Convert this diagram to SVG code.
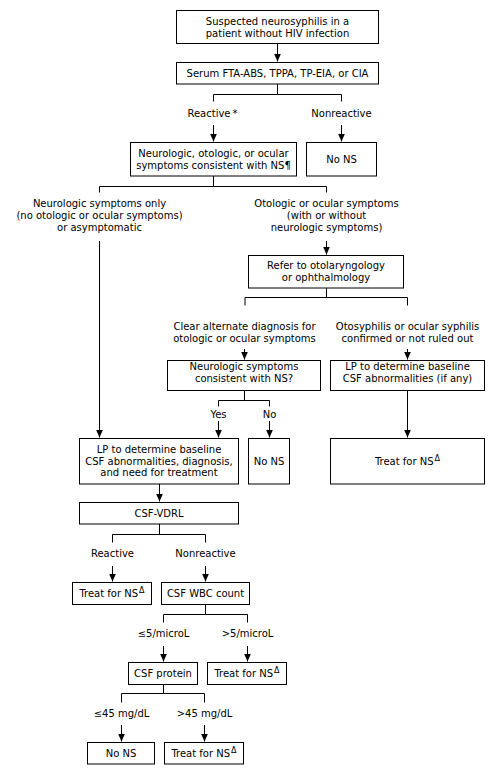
<svg xmlns="http://www.w3.org/2000/svg" width="495" height="775" viewBox="0 0 495 775">
<style>
.b{fill:#fff;stroke:#000;stroke-width:1}
.t{font-family:"DejaVu Sans",Verdana,sans-serif;font-size:10px;fill:#000;text-anchor:middle}
.c{fill:none;stroke:#000;stroke-width:1}
.a{fill:none;stroke:#000;stroke-width:1;marker-end:url(#ah)}
.s{font-size:8px}
</style>
<defs>
<marker id="ah" markerUnits="userSpaceOnUse" markerWidth="8" markerHeight="8" viewBox="0 0 8 8" refX="8" refY="4" orient="auto">
<path d="M0,0.5 L8,4 L0,7.5 Z" fill="#000"/>
</marker>
</defs>
<rect width="495" height="775" fill="#fff"/>
<g id="connectors">
<path class="a" d="M277.5,44 V61.5"/>
<path class="c" d="M277.5,84 V94.5 M213.5,101.5 V94.5 H341.5 V101.5"/>
<path class="a" d="M213.5,125 V141.5"/>
<path class="a" d="M341.5,125 V141.5"/>
<path class="c" d="M213.5,176 V186.5 M99.5,192.5 V186.5 H326.5 V192.5"/>
<path class="a" d="M99.5,241 V437.5"/>
<path class="a" d="M326.5,241 V254.5"/>
<path class="c" d="M326.5,288 V297.5 M245,305.5 V297.5 H407.5 V305.5"/>
<path class="a" d="M244.5,349 V359.5"/>
<path class="a" d="M407.5,349 V359.5"/>
<path class="c" d="M244.5,390.5 V400.5 M218.5,406.5 V400.5 H269.5 V406.5"/>
<path class="a" d="M218.5,421 V437.5"/>
<path class="a" d="M269.5,421 V437.5"/>
<path class="a" d="M407.5,390.5 V437.5"/>
<path class="a" d="M159.5,484 V501.5"/>
<path class="c" d="M159.5,524 V534.5 M112.5,542.5 V534.5 H205.5 V542.5"/>
<path class="a" d="M112.5,566 V581.5"/>
<path class="a" d="M205.5,566 V581.5"/>
<path class="c" d="M205.5,604.5 V614.5 M163.5,622.5 V614.5 H247.5 V622.5"/>
<path class="a" d="M163.5,646 V661.5"/>
<path class="a" d="M247.5,646 V661.5"/>
<path class="c" d="M163.5,684.5 V693.5 M121.5,702.5 V693.5 H204.5 V702.5"/>
<path class="a" d="M121.5,725 V741.5"/>
<path class="a" d="M204.5,725 V741.5"/>
</g>
<g id="labels">
<text class="t" x="212.5" y="117">Reactive<tspan dx="2">*</tspan></text>
<text class="t" x="341.5" y="117">Nonreactive</text>
<text class="t" x="99.5" y="206.5">Neurologic symptoms only</text>
<text class="t" x="99.5" y="219">(no otologic or ocular symptoms)</text>
<text class="t" x="99.5" y="231">or asymptomatic</text>
<text class="t" x="326.5" y="206.5">Otologic or ocular symptoms</text>
<text class="t" x="326.5" y="219">(with or without</text>
<text class="t" x="326.5" y="231">neurologic symptoms)</text>
<text class="t" x="244.5" y="330">Clear alternate diagnosis for</text>
<text class="t" x="244.5" y="342">otologic or ocular symptoms</text>
<text class="t" x="407.5" y="330">Otosyphilis or ocular syphilis</text>
<text class="t" x="407.5" y="342">confirmed or not ruled out</text>
<text class="t" x="218.5" y="418">Yes</text>
<text class="t" x="269.5" y="418">No</text>
<text class="t" x="112.5" y="557">Reactive</text>
<text class="t" x="205.5" y="557">Nonreactive</text>
<text class="t" x="163.5" y="637">≤5/microL</text>
<text class="t" x="247.5" y="637">&gt;5/microL</text>
<text class="t" x="121.5" y="717">≤45 mg/dL</text>
<text class="t" x="204.5" y="717">&gt;45 mg/dL</text>
</g>
<g id="n1"><rect class="b" x="176.5" y="10.5" width="202" height="33"/>
<text class="t" x="277.5" y="24.5">Suspected neurosyphilis in a</text>
<text class="t" x="277.5" y="36.5">patient without HIV infection</text></g>
<g id="n2"><rect class="b" x="176.5" y="62.5" width="202" height="21.5"/>
<text class="t" x="277.5" y="76.5">Serum FTA-ABS, TPPA, TP-EIA, or CIA</text></g>
<g id="n3"><rect class="b" x="130.5" y="142.5" width="166" height="33.5"/>
<text class="t" x="213.5" y="157">Neurologic, otologic, or ocular</text>
<text class="t" x="213.5" y="168.5">symptoms consistent with NS¶</text></g>
<g id="n4"><rect class="b" x="306.5" y="142.5" width="70" height="33.5"/>
<text class="t" x="341.5" y="162.5">No NS</text></g>
<g id="n5"><rect class="b" x="248.5" y="255.5" width="155" height="32.5"/>
<text class="t" x="326" y="268.5">Refer to otolaryngology</text>
<text class="t" x="326" y="281">or ophthalmology</text></g>
<g id="n6"><rect class="b" x="167.5" y="360.5" width="153" height="30"/>
<text class="t" x="244" y="369.5">Neurologic symptoms</text>
<text class="t" x="244" y="381.5">consistent with NS?</text></g>
<g id="n7"><rect class="b" x="330.5" y="360.5" width="154" height="30"/>
<text class="t" x="407.5" y="369.5">LP to determine baseline</text>
<text class="t" x="407.5" y="381.5">CSF abnormalities (if any)</text></g>
<g id="n8"><rect class="b" x="79.5" y="438.5" width="159" height="45.5"/>
<text class="t" x="159" y="452.5">LP to determine baseline</text>
<text class="t" x="159" y="464.5">CSF abnormalities, diagnosis,</text>
<text class="t" x="159" y="476">and need for treatment</text></g>
<g id="n9"><rect class="b" x="248.5" y="438.5" width="41" height="45.5"/>
<text class="t" x="269" y="464.5">No NS</text></g>
<g id="n10"><rect class="b" x="330.5" y="438.5" width="154" height="45.5"/>
<text class="t" x="407.5" y="464.5">Treat for NS<tspan class="s" dx="1" dy="-3.5">Δ</tspan></text></g>
<g id="n11"><rect class="b" x="79.5" y="502.5" width="159" height="21.5"/>
<text class="t" x="159" y="516.5">CSF-VDRL</text></g>
<g id="n12"><rect class="b" x="72.5" y="582.5" width="79" height="22"/>
<text class="t" x="112" y="596.5">Treat for NS<tspan class="s" dx="1" dy="-3.5">Δ</tspan></text></g>
<g id="n13"><rect class="b" x="161.5" y="582.5" width="88" height="22"/>
<text class="t" x="205.5" y="596.5">CSF WBC count</text></g>
<g id="n14"><rect class="b" x="128.5" y="662.5" width="69" height="22"/>
<text class="t" x="163" y="676.5">CSF protein</text></g>
<g id="n15"><rect class="b" x="207.5" y="662.5" width="79" height="22"/>
<text class="t" x="247" y="676.5">Treat for NS<tspan class="s" dx="1" dy="-3.5">Δ</tspan></text></g>
<g id="n16"><rect class="b" x="87.5" y="742.5" width="67" height="21.5"/>
<text class="t" x="121" y="756.5">No NS</text></g>
<g id="n17"><rect class="b" x="164.5" y="742.5" width="79" height="21.5"/>
<text class="t" x="204" y="756.5">Treat for NS<tspan class="s" dx="1" dy="-3.5">Δ</tspan></text></g>
</svg>
